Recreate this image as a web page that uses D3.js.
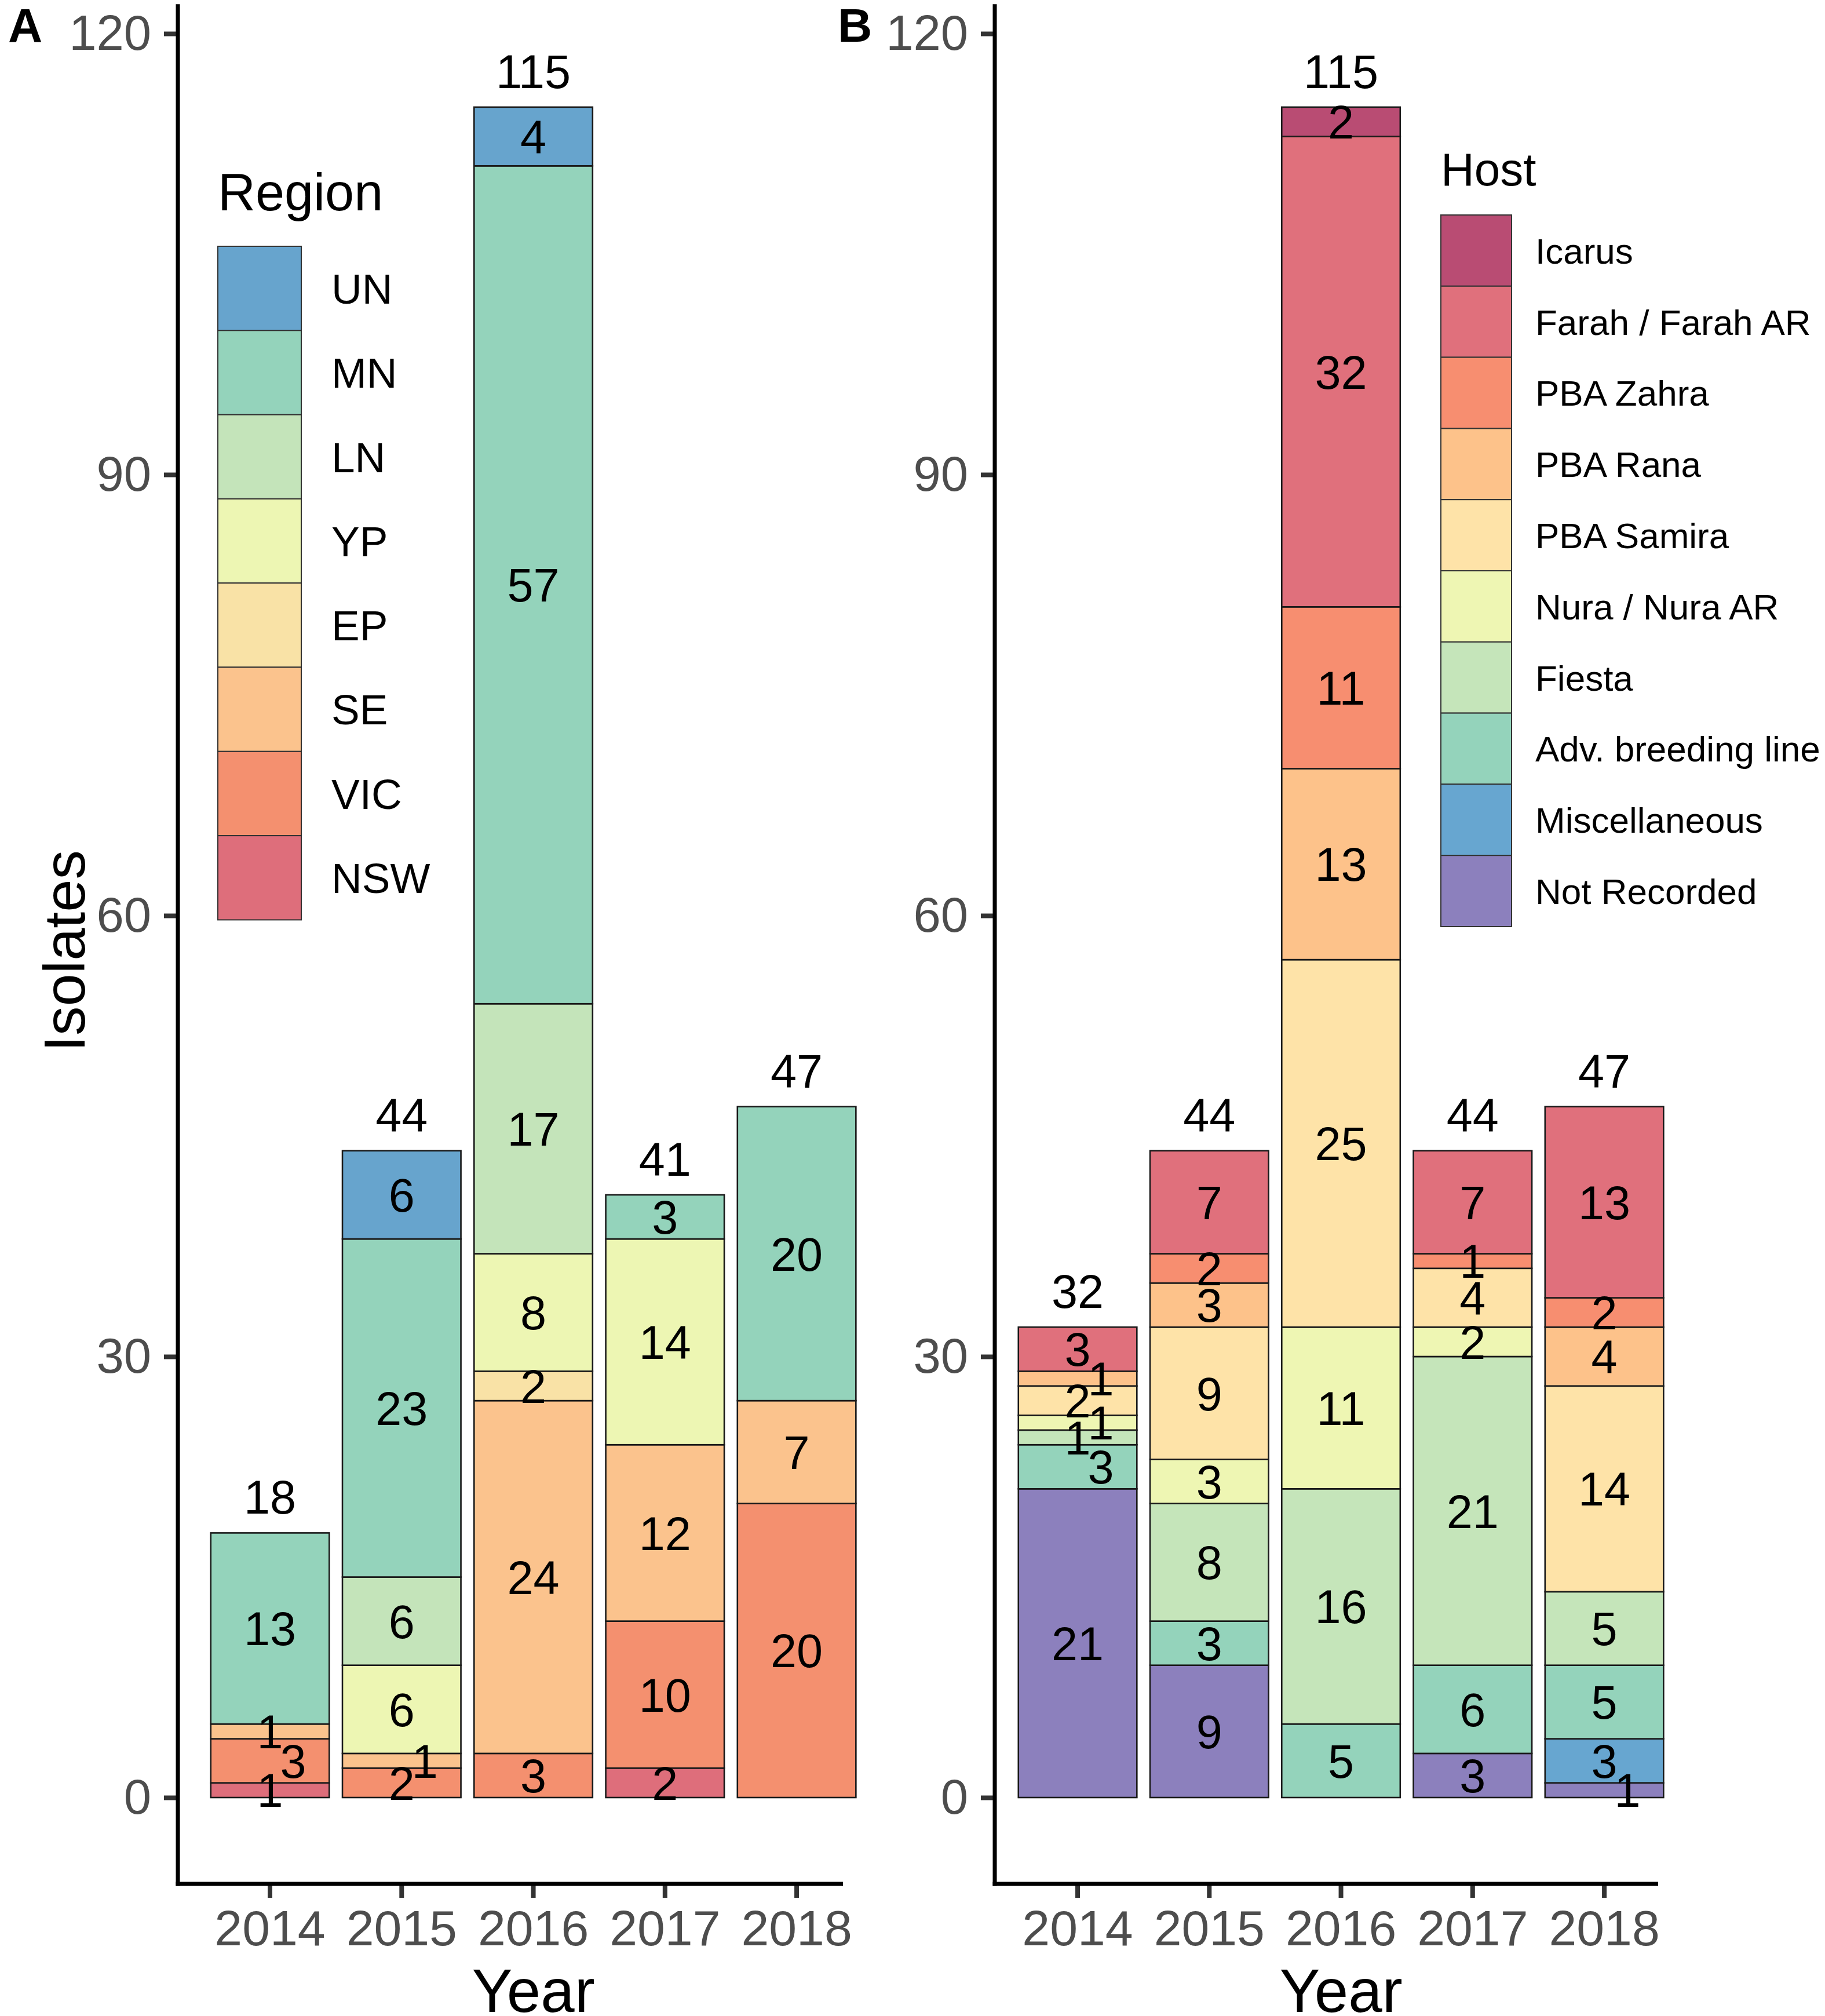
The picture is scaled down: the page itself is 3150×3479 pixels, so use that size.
<!DOCTYPE html>
<html><head><meta charset="utf-8">
<script src="https://cdn.jsdelivr.net/npm/d3@7"></script>
<style>
body{margin:0;background:#fff}
svg{display:block}
text{font-family:"Liberation Sans",Arial,Helvetica,sans-serif}
</style>
</head><body>
<svg id="chart" width="3150" height="3479"></svg>
<script>
// ---------------- DATA ----------------
const years = ["2014", "2015", "2016", "2017", "2018"];
const yTicks = [0, 30, 60, 90, 120];

// Panel A : Region (stack order bottom -> top)
const regionKeys = ["NSW", "VIC", "SE", "EP", "YP", "LN", "MN", "UN"];
const regionNSW = [1, 0, 0, 2, 0];
const regionVIC = [3, 2, 3, 10, 20];
const regionSE  = [1, 1, 24, 12, 7];
const regionEP  = [0, 0, 2, 0, 0];
const regionYP  = [0, 6, 8, 14, 0];
const regionLN  = [0, 6, 17, 0, 0];
const regionMN  = [13, 23, 57, 3, 20];
const regionUN  = [0, 6, 4, 0, 0];
const regionColors = ["#DE6E7B", "#F4906F", "#FBC38D", "#F9E2A6", "#EDF6B3", "#C4E4BA", "#94D3BB", "#67A4CD"];

// Panel B : Host (stack order bottom -> top)
const hostKeys = ["Not Recorded", "Miscellaneous", "Adv. breeding line", "Fiesta", "Nura / Nura AR",
                  "PBA Samira", "PBA Rana", "PBA Zahra", "Farah / Farah AR", "Icarus"];
const hostNotRecorded = [21, 9, 0, 3, 1];
const hostMisc        = [0, 0, 0, 0, 3];
const hostAdv         = [3, 3, 5, 6, 5];
const hostFiesta      = [1, 8, 16, 21, 5];
const hostNura        = [1, 3, 11, 2, 0];
const hostSamira      = [2, 9, 25, 4, 14];
const hostRana        = [1, 3, 13, 0, 4];
const hostZahra       = [0, 2, 11, 1, 2];
const hostFarah       = [3, 7, 32, 7, 13];
const hostIcarus      = [0, 0, 2, 0, 0];
const hostColors = ["#8C80BD", "#67A6D0", "#94D3BB", "#C5E5BA", "#EEF6B3",
                    "#FEE3A8", "#FDC28A", "#F78E70", "#E0707C", "#B94C73"];

// ---------------- LAYOUT ----------------
const svg = d3.select("#chart");
svg.append("rect").attr("width", 3150).attr("height", 3479).attr("fill", "#fff");

const y = d3.scaleLinear().domain([0, 120]).range([3102, 58]);
const xAxisY = 3251;
const FONT_LABEL = 81;

const panels = [
  { tag: "A", tagX: 14, keys: regionKeys, series: [regionNSW, regionVIC, regionSE, regionEP, regionYP, regionLN, regionMN, regionUN],
    colors: regionColors, axisX: 307, axisEnd: 1455, band: [352.4, 1488.7],
    legend: { title: "Region", x: 376, titleY: 363, titleSize: 90, top: 425, kw: 144, kh: 145.3, labelX: 572, labelSize: 73 },
    ylab: true },
  { tag: "B", tagX: 1446, keys: hostKeys, series: [hostNotRecorded, hostMisc, hostAdv, hostFiesta, hostNura, hostSamira, hostRana, hostZahra, hostFarah, hostIcarus],
    colors: hostColors, axisX: 1717, axisEnd: 2862, band: [1746.4, 2882.7],
    legend: { title: "Host", x: 2487, titleY: 320, titleSize: 80, top: 371, kw: 122, kh: 122.8, labelX: 2650, labelSize: 62 },
    ylab: false }
];

panels.forEach(p => {
  const g = svg.append("g");
  const x = d3.scaleBand().domain(years).range(p.band).paddingInner(0.1).paddingOuter(0.05);

  // stacked data
  const rows = years.map((yr, i) => {
    const r = { year: yr };
    p.keys.forEach((k, j) => r[k] = p.series[j][i]);
    return r;
  });
  const stack = d3.stack().keys(p.keys)(rows);

  // bars
  stack.forEach((layer, j) => {
    g.append("g").selectAll("rect").data(layer.filter(d => d[1] - d[0] > 0)).join("rect")
      .attr("x", d => x(d.data.year))
      .attr("width", x.bandwidth())
      .attr("y", d => y(d[1]))
      .attr("height", d => y(d[0]) - y(d[1]))
      .attr("fill", p.colors[j])
      .attr("stroke", "#1a1a1a")
      .attr("stroke-width", 2.6);
  });

  // segment labels with simple collision avoidance (alternate push to the right)
  years.forEach((yr, i) => {
    const labs = [];
    stack.forEach((layer, j) => {
      const d = layer[i];
      const v = d[1] - d[0];
      if (v > 0) labs.push({ v, py: y((d[0] + d[1]) / 2), dx: 0 });
    });
    let chains = [], cur = [labs[0]];
    for (let k = 1; k < labs.length; k++) {
      if (Math.abs(labs[k].py - labs[k - 1].py) < 58) cur.push(labs[k]);
      else { chains.push(cur); cur = [labs[k]]; }
    }
    chains.push(cur);
    chains.forEach(c => {
      if (c.length < 2) return;
      const even = c.filter((_, k) => k % 2 === 0), odd = c.filter((_, k) => k % 2 === 1);
      const sum = a => d3.sum(a, l => l.v);
      let mv;
      if (even.length !== odd.length) mv = even.length < odd.length ? even : odd;
      else mv = sum(even) <= sum(odd) ? even : odd;
      mv.forEach(l => l.dx = 40);
    });
    const cx = x(yr) + x.bandwidth() / 2;
    labs.forEach(l => {
      g.append("text").attr("x", cx + l.dx).attr("y", l.py).attr("dy", "0.36em")
        .attr("text-anchor", "middle").attr("font-size", FONT_LABEL).attr("fill", "#000")
        .text(l.v);
    });
  });

  // totals
  const totals = years.map((yr, i) => ({ yr, t: d3.sum(p.series, s => s[i]) }));
  g.append("g").selectAll("text").data(totals).join("text")
    .attr("x", d => x(d.yr) + x.bandwidth() / 2)
    .attr("y", d => y(d.t) - 33)
    .attr("text-anchor", "middle").attr("font-size", FONT_LABEL).attr("fill", "#000")
    .text(d => d.t);

  // y axis
  const ya = g.append("g").attr("transform", `translate(${p.axisX},0)`)
    .call(d3.axisLeft(y).tickValues(yTicks).tickSize(24).tickPadding(22));
  ya.select(".domain").remove();
  ya.selectAll(".tick line").attr("stroke", "#333").attr("stroke-width", 8);
  ya.selectAll(".tick text").attr("fill", "#4D4D4D").attr("font-size", 85)
    .attr("font-family", "Liberation Sans, Arial, sans-serif");

  // x axis
  const xa = g.append("g").attr("transform", `translate(0,${xAxisY})`)
    .call(d3.axisBottom(x).tickSize(24).tickPadding(21));
  xa.select(".domain").remove();
  xa.selectAll(".tick line").attr("stroke", "#333").attr("stroke-width", 8);
  xa.selectAll(".tick text").attr("fill", "#4D4D4D").attr("font-size", 86)
    .attr("font-family", "Liberation Sans, Arial, sans-serif");

  // axis lines
  g.append("line").attr("x1", p.axisX).attr("x2", p.axisX).attr("y1", y(122)).attr("y2", xAxisY + 3.5)
    .attr("stroke", "#000").attr("stroke-width", 7);
  g.append("line").attr("x1", p.axisX - 3.5).attr("x2", p.axisEnd).attr("y1", xAxisY).attr("y2", xAxisY)
    .attr("stroke", "#000").attr("stroke-width", 7);

  // x title
  g.append("text").attr("x", x("2016") + x.bandwidth() / 2).attr("y", 3472)
    .attr("text-anchor", "middle").attr("font-size", 105).attr("fill", "#000").text("Year");

  if (p.ylab) {
    g.append("text").attr("transform", "translate(146,1641) rotate(-90)")
      .attr("text-anchor", "middle").attr("font-size", 101).attr("fill", "#000").text("Isolates");
  }

  // panel tag
  g.append("text").attr("x", p.tagX).attr("y", 72).attr("font-size", 82).attr("font-weight", "bold")
    .attr("fill", "#000").text(p.tag);

  // legend (top -> bottom is reverse stack order)
  const L = p.legend;
  const lg = g.append("g");
  lg.append("text").attr("x", L.x).attr("y", L.titleY).attr("font-size", L.titleSize).attr("fill", "#000").text(L.title);
  const items = p.keys.map((k, j) => ({ k, c: p.colors[j] })).reverse();
  items.forEach((it, i) => {
    lg.append("rect").attr("x", L.x).attr("y", L.top + i * L.kh).attr("width", L.kw).attr("height", L.kh)
      .attr("fill", it.c).attr("stroke", "#333").attr("stroke-width", 2);
    lg.append("text").attr("x", L.labelX).attr("y", L.top + i * L.kh + L.kh / 2).attr("dy", "0.36em")
      .attr("font-size", L.labelSize).attr("fill", "#000").text(it.k);
  });
});
</script>
</body></html>
